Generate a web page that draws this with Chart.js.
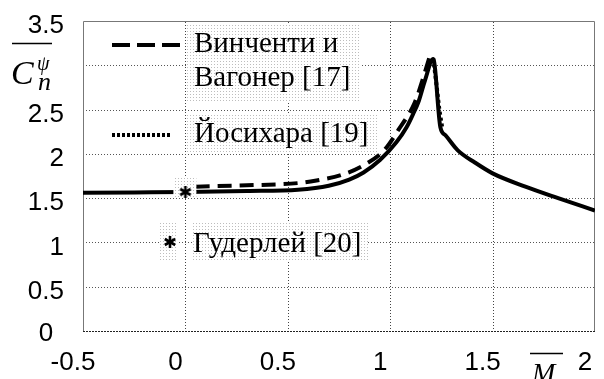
<!DOCTYPE html>
<html>
<head>
<meta charset="utf-8">
<script src="https://cdn.jsdelivr.net/npm/chart.js@4/dist/chart.umd.min.js"></script>
<style>
  html, body { margin: 0; padding: 0; background: #fff; }
</style>
</head>
<body>
<canvas id="myChart" width="604" height="379"></canvas>
<script>
// Данные графика
const xTicks = [-0.5, 0, 0.5, 1, 1.5, 2];
const yTicks = [0, 0.5, 1, 1.5, 2, 2.5, 3, 3.5];
const xGrid = [0, 0.5, 1, 1.5];
const yGrid = [0.5, 1, 1.5, 2, 2.5, 3];

// сплошная линия (расчёт)
const solidX = [-0.5, -0.25, 0, 0.3, 0.55, 0.7, 0.8, 0.87, 0.95, 1.03, 1.08, 1.11, 1.14, 1.17, 1.21, 1.245, 1.27, 1.33, 1.415, 1.5, 1.66, 1.82, 2.0];
const solidY = [1.56, 1.565, 1.57, 1.58, 1.595, 1.64, 1.71, 1.79, 1.93, 2.13, 2.3, 2.44, 2.6, 2.83, 3.07, 2.3, 2.21, 2.04, 1.9, 1.78, 1.63, 1.5, 1.36];

// Винченти и Вагонер [17]
const dashX = [0.05, 0.3, 0.55, 0.64, 0.76, 0.87, 0.97, 1.04, 1.12, 1.16, 1.19];
const dashY = [1.63, 1.645, 1.67, 1.7, 1.76, 1.87, 2.04, 2.27, 2.58, 2.85, 3.08];

// Йосихара [19]
const dotX = [1.21, 1.225, 1.24, 1.255];
const dotY = [3.08, 2.8, 2.5, 2.28];

// Гудерлей [20]
const starX = [0];
const starY = [1.57];

const legendLabels = ["Винченти и", "Вагонер [17]", "Йосихара [19]", "Гудерлей [20]"];

const SERIF = "'Liberation Serif', 'Times New Roman', 'DejaVu Serif', serif";

function toPts(xs, ys) {
  return xs.map((x, i) => ({ x: x, y: ys[i] }));
}

const ctx = document.getElementById("myChart").getContext("2d");

// звёздочка-маркер
function makeStar() {
  const s = document.createElement("canvas");
  s.width = 16; s.height = 16;
  const sc = s.getContext("2d");
  sc.strokeStyle = "#000";
  sc.lineWidth = 2.6;
  for (let k = 0; k < 3; k++) {
    const a = Math.PI / 2 + k * Math.PI / 3;
    sc.beginPath();
    sc.moveTo(8 - 6 * Math.cos(a), 8 - 6 * Math.sin(a));
    sc.lineTo(8 + 6 * Math.cos(a), 8 + 6 * Math.sin(a));
    sc.stroke();
  }
  return s;
}
const starImg = makeStar();

// точечная заливка как в исходнике
function stipple(c) {
  const p = document.createElement("canvas");
  p.width = 3; p.height = 3;
  const pc = p.getContext("2d");
  pc.fillStyle = "#fff";
  pc.fillRect(0, 0, 3, 3);
  pc.fillStyle = "#bdbdbd";
  pc.fillRect(1, 1, 1, 1);
  return c.createPattern(p, "repeat");
}

function box(c, x0, y0, x1, y1) {
  c.save();
  c.fillStyle = stipple(c);
  c.fillRect(x0, y0, x1 - x0, y1 - y0);
  c.restore();
}

const decor = {
  id: "decor",
  beforeDatasetsDraw(chart) {
    const c = chart.ctx;
    const a = chart.chartArea;
    const sx = chart.scales.x, sy = chart.scales.y;
    c.save();
    // сетка: вертикальные линии точками
    c.fillStyle = "#444";
    for (const v of xGrid) {
      const px = Math.round(sx.getPixelForValue(v));
      for (let y = Math.ceil(a.top) + 1; y < a.bottom; y += 3) {
        c.fillRect(px, y, 1, 1);
      }
    }
    // горизонтальные
    c.lineWidth = 1;
    c.strokeStyle = "#555";
    c.setLineDash([1, 2]);
    for (const v of yGrid) {
      const py = Math.round(sy.getPixelForValue(v)) + 0.5;
      c.beginPath(); c.moveTo(a.left, py); c.lineTo(a.right, py); c.stroke();
    }
    // рамка
    c.setLineDash([]);
    c.strokeStyle = "#777";
    c.beginPath();
    c.moveTo(a.left + 0.5, a.bottom);
    c.lineTo(a.left + 0.5, a.top + 0.5);
    c.lineTo(a.right - 0.5, a.top + 0.5);
    c.lineTo(a.right - 0.5, a.bottom);
    c.stroke();
    c.strokeStyle = "#222";
    c.setLineDash([2, 1]);
    c.beginPath();
    c.moveTo(a.left, a.bottom + 0.5);
    c.lineTo(a.right, a.bottom + 0.5);
    c.stroke();
    c.restore();
    // фоны легенды
    box(c, 187, 23, 360, 102);
    box(c, 187, 113, 377, 153);
    box(c, 160, 223, 178, 260);
    box(c, 192, 223, 368, 260);
  },
  afterDatasetDraw(chart, args) {
    if (args.index !== 0) return;
    const c = chart.ctx;
    const sx = chart.scales.x.getPixelForValue(starX[0]);
    const sy = chart.scales.y.getPixelForValue(starY[0]);
    box(c, sx - 12, sy - 15, sx + 11, sy + 5);
  },
  afterDraw(chart) {
    const c = chart.ctx;
    c.save();
    c.strokeStyle = "#000";
    c.lineWidth = 4;
    // образец штриховой линии
    c.setLineDash([18, 7]);
    c.beginPath();
    c.moveTo(112, 45);
    c.lineTo(180, 45);
    c.stroke();
    // образец пунктира
    c.setLineDash([3, 2]);
    c.beginPath();
    c.moveTo(112, 135);
    c.lineTo(170, 135);
    c.stroke();
    c.setLineDash([]);
    c.drawImage(starImg, 162, 234);

    c.fillStyle = "#000";
    c.font = "29px " + SERIF;
    c.textAlign = "left";
    c.textBaseline = "alphabetic";
    c.fillText(legendLabels[0], 194, 52);
    c.fillText(legendLabels[1], 194, 86);
    c.fillText(legendLabels[2], 194, 142);
    c.fillText(legendLabels[3], 193, 252);

    // ноль на оси y
    c.font = "26px 'Liberation Sans', Arial, sans-serif";
    c.textAlign = "center";
    c.textBaseline = "middle";
    c.fillText("0", 46, 334);

    // подпись оси y: C_n^psi
    c.lineWidth = 1.5;
    c.beginPath();
    c.moveTo(12, 43.5);
    c.lineTo(52, 43.5);
    c.stroke();
    c.textAlign = "left";
    c.textBaseline = "alphabetic";
    c.font = "italic 34px " + SERIF;
    c.fillText("C", 11, 84);
    c.font = "italic 20px " + SERIF;
    c.fillText("ψ", 37, 70);
    c.font = "italic 26px " + SERIF;
    c.fillText("n", 38, 90);

    // подпись оси x: M с чертой
    c.beginPath();
    c.moveTo(530, 353.5);
    c.lineTo(563, 353.5);
    c.stroke();
    c.font = "italic 28px " + SERIF;
    c.fillText("M", 532, 382);
    c.restore();
  }
};

const config = {
  type: "scatter",
  data: {
    datasets: [{
      label: "solid",
      data: toPts(solidX, solidY),
      showLine: true,
      borderColor: "#000",
      borderWidth: 4,
      pointRadius: 0,
      cubicInterpolationMode: "monotone",
      order: 1
    }, {
      label: legendLabels[0] + " " + legendLabels[1],
      data: toPts(dashX, dashY),
      showLine: true,
      borderColor: "#000",
      borderWidth: 4,
      borderDash: [14, 8],
      pointRadius: 0,
      cubicInterpolationMode: "monotone",
      order: 2
    }, {
      label: legendLabels[2],
      data: toPts(dotX, dotY),
      showLine: true,
      borderColor: "#000",
      borderWidth: 4,
      borderDash: [3, 3],
      pointRadius: 0,
      tension: 0,
      order: 3
    }, {
      label: legendLabels[3],
      data: toPts(starX, starY),
      showLine: false,
      pointStyle: starImg,
      pointRadius: 8,
      order: 0
    }]
  },
  options: {
    responsive: false,
    animation: false,
    devicePixelRatio: 1,
    layout: { padding: { left: 0, top: 21, right: 3, bottom: 0 } },
    plugins: { legend: { display: false }, tooltip: { enabled: false } },
    scales: {
      x: {
        type: "linear",
        min: -0.5,
        max: 2,
        afterBuildTicks: (s) => { s.ticks = xTicks.map((v) => ({ value: v })); },
        afterFit: (s) => { s.height = 48; s.paddingLeft = 0; s.paddingRight = 0; },
        ticks: {
          color: "#000",
          font: { family: "'Liberation Sans', Arial, sans-serif", size: 26 },
          padding: 8,
          labelOffset: -10,
          maxRotation: 0,
          autoSkip: false,
          callback: (v) => String(v)
        },
        grid: { display: false },
        border: { display: false }
      },
      y: {
        min: 0,
        max: 3.5,
        afterBuildTicks: (s) => { s.ticks = yTicks.map((v) => ({ value: v })); },
        afterFit: (s) => { s.width = 83; s.paddingTop = 0; s.paddingBottom = 0; },
        ticks: {
          color: "#000",
          font: { family: "'Liberation Sans', Arial, sans-serif", size: 26 },
          padding: 11,
          labelOffset: 5,
          autoSkip: false,
          callback: (v) => (v === 0 || v === 3 ? "" : String(v))
        },
        grid: { display: false },
        border: { display: false }
      }
    }
  },
  plugins: [decor]
};

const myChart = new Chart(ctx, config);
</script>
</body>
</html>
